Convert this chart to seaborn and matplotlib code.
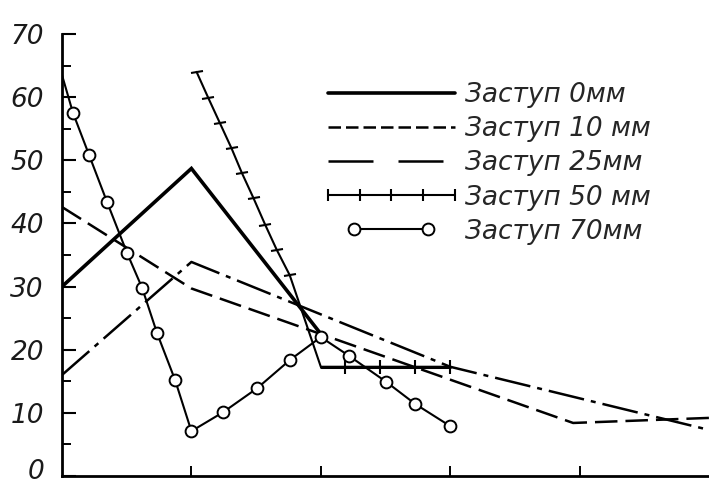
import matplotlib
matplotlib.use("Agg")
import matplotlib.pyplot as plt
from matplotlib.lines import Line2D
from matplotlib.markers import MarkerStyle
from matplotlib.transforms import Affine2D, ScaledTranslation
from matplotlib.legend_handler import HandlerLine2D
import seaborn as sns

# ---- data -------------------------------------------------------------
# Заступ 0 мм
x_0mm = [0, 1, 2]
y_0mm = [30.0, 48.7, 22.5]

# Заступ 10 мм
x_10mm = [0, 1, 3.95, 5]
y_10mm = [42.6, 29.7, 8.4, 9.2]

# Заступ 25 мм
x_25mm = [0, 1, 3, 5]
y_25mm = [16.0, 33.9, 17.3, 7.3]

# Заступ 50 мм: points at the cross ticks of the steep run, the bend,
# then the ticks of the flat run
x_50mm = [1.04, 1.13, 1.22, 1.31, 1.39, 1.48, 1.57, 1.66, 1.76,
          2.0, 2.19, 2.46, 2.73, 3.0]
y_50mm = [64.0, 59.9, 55.9, 51.9, 48.0, 44.0, 39.8, 35.8, 31.8,
          17.3, 17.3, 17.3, 17.3, 17.3]
steep_ticks = list(range(0, 9))
flat_ticks = [10, 11, 12, 13]

# Заступ 70 мм (one point per circle)
x_70mm = [0, 0.085, 0.21, 0.348, 0.503, 0.619, 0.735, 0.874, 1.0,
          1.245, 1.508, 1.763, 2.0, 2.22, 2.506, 2.73, 3.0]
y_70mm = [63.5, 57.5, 50.8, 43.4, 35.3, 29.8, 22.6, 15.2, 7.1,
          10.1, 13.9, 18.4, 22.0, 19.0, 14.9, 11.4, 7.9]

labels = ["Заступ 0мм", "Заступ 10 мм", "Заступ 25мм",
          "Заступ 50 мм", "Заступ 70мм"]
y_ticks = [0, 10, 20, 30, 40, 50, 60, 70]
y_minor = [5, 15, 25, 35, 45, 55, 65]
x_ticks = [1, 2, 3, 4]

# ---- style ------------------------------------------------------------
sns.set_theme(style="ticks")
plt.rcParams["font.family"] = ["DejaVu Sans"]

fig = plt.figure(figsize=(7.09, 4.88), dpi=100)
ax = fig.add_axes([62 / 709, 12 / 488, 647 / 709, 442 / 488])

K = "black"
lw_main = 2.6
lw_dash = 1.8
lw_thin = 1.5

ls_10 = (0, (9, 3.2))
ls_25 = (0, (14.5, 2.8, 2.0, 2.8))

sns.lineplot(x=x_0mm, y=y_0mm, ax=ax, color=K, lw=lw_main,
             sort=False, estimator=None, solid_joinstyle="miter")
sns.lineplot(x=x_10mm, y=y_10mm, ax=ax, color=K, lw=lw_dash,
             linestyle=ls_10, sort=False, estimator=None)
sns.lineplot(x=x_25mm, y=y_25mm, ax=ax, color=K, lw=lw_dash,
             linestyle=ls_25, sort=False, estimator=None)

# 50 mm: line with cross ticks on the steep run, bars on the flat run
tick_steep = MarkerStyle("_", transform=Affine2D().rotate_deg(12))
sns.lineplot(x=x_50mm, y=y_50mm, ax=ax, color=K, lw=lw_thin,
             marker=tick_steep, markersize=9, mew=1.5, mec=K,
             markevery=steep_ticks, sort=False, estimator=None)
sns.lineplot(x=x_50mm[9:], y=y_50mm[9:], ax=ax, color=K, lw=2.2,
             marker="|", markersize=10, mew=1.5, mec=K,
             markevery=[i - 9 for i in flat_ticks],
             sort=False, estimator=None)

# 70 mm: line with open circles
sns.lineplot(x=x_70mm, y=y_70mm, ax=ax, color=K, lw=lw_thin,
             marker="o", markersize=8.5, mfc="white", mec=K, mew=1.4,
             markevery=list(range(1, len(x_70mm))),
             sort=False, estimator=None)

# ---- axes ---------------------------------------------------------------
ax.set_xlim(0, 5)
ax.set_ylim(0, 70)
sns.despine(ax=ax)
for side in ("left", "bottom"):
    ax.spines[side].set_linewidth(2.0)
    ax.spines[side].set_color(K)

ax.set_xticks(x_ticks)
ax.set_xticklabels([])
ax.set_yticks(y_ticks)
ax.set_yticks(y_minor, minor=True)
ax.set_yticklabels([str(v) for v in y_ticks], fontsize=19,
                   fontstyle="italic", color="#1a1a1a")
ax.tick_params(axis="y", which="major", direction="in", length=10,
               width=1.5, color=K, pad=13)
ax.tick_params(axis="y", which="minor", direction="in", length=6.5,
               width=1.4, color=K)
ax.tick_params(axis="x", which="major", direction="in", length=7,
               width=1.4, color=K)
ax.set_xlabel("")
ax.set_ylabel("")
ax.grid(False)

# lift the bottom label a little so it sits inside the figure
zero_label = ax.get_yticklabels()[0]
zero_label.set_transform(zero_label.get_transform()
                         + ScaledTranslation(0, 5 / 72, fig.dpi_scale_trans))

# ---- legend -------------------------------------------------------------
h0 = Line2D([], [], color=K, lw=lw_main)
h10 = Line2D([], [], color=K, lw=lw_dash, linestyle=(0, (5, 2)))
h25 = Line2D([], [], color=K, lw=lw_dash, linestyle=(0, (18, 10)))
h50 = Line2D([], [], color=K, lw=lw_thin, marker="|", markersize=9,
             mew=1.5)
h70 = Line2D([], [], color=K, lw=lw_thin, marker="o", markersize=8.5,
             mfc="white", mec=K, mew=1.4)

fig.legend([h0, h10, h25, h50, h70], labels,
           loc="upper left", bbox_to_anchor=(328 / 709, 1 - 82 / 488),
           frameon=False, borderpad=0, borderaxespad=0,
           handlelength=4.8, handletextpad=0.4, labelspacing=0.31,
           prop=dict(family="DejaVu Sans", style="italic", size=19),
           handler_map={h50: HandlerLine2D(numpoints=5, marker_pad=0),
                        h70: HandlerLine2D(numpoints=2, marker_pad=1.0)})

fig.savefig("out.png", dpi=100, facecolor="white")
